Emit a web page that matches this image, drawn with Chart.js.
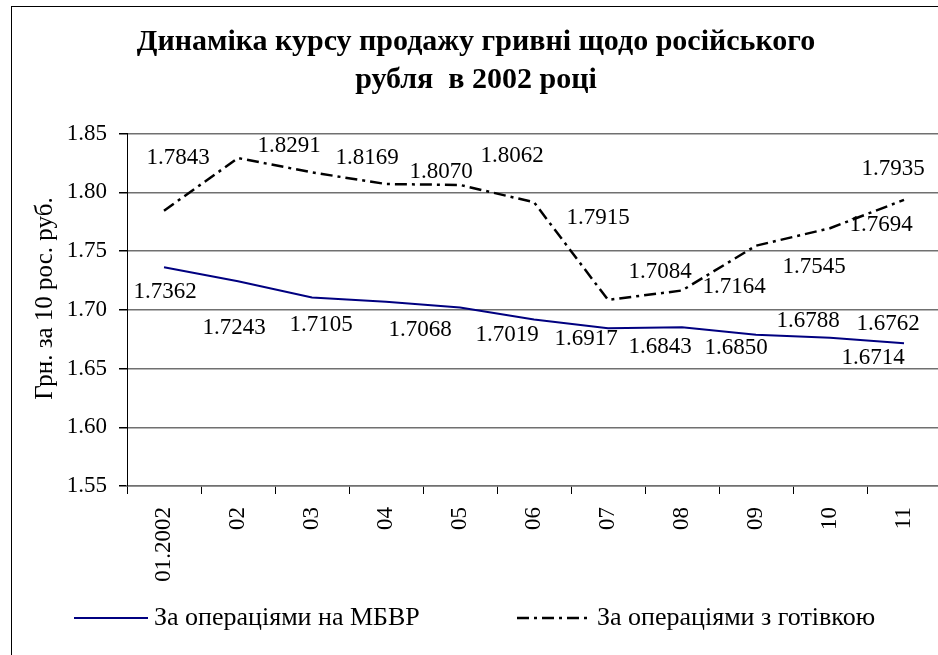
<!DOCTYPE html>
<html><head><meta charset="utf-8">
<script src="https://cdn.jsdelivr.net/npm/chart.js@4"></script>
<style>
html,body{margin:0;padding:0;background:#fff;overflow:hidden;width:938px;height:655px}
#wrap{position:absolute;left:0;top:0;width:960px;height:680px}
#frame{position:absolute;left:11px;top:6px;width:1000px;height:1000px;border:1px solid #000;box-sizing:border-box;pointer-events:none}
</style></head><body>
<div id="wrap"><canvas id="c" width="960" height="680"></canvas></div>
<div id="frame"></div>
<script>
const categories = ['01.2002','02','03','04','05','06','07','08','09','10','11'];
const mbvrValues = [1.7362,1.7243,1.7105,1.7068,1.7019,1.6917,1.6843,1.6850,1.6788,1.6762,1.6714];
const cashValues = [1.7843,1.8291,1.8169,1.8070,1.8062,1.7915,1.7084,1.7164,1.7545,1.7694,1.7935];
const yTicks = [1.55,1.60,1.65,1.70,1.75,1.80,1.85];
const seriesNames = ['За операціями на МБВР','За операціями з готівкою'];
const titleLines = ['Динаміка курсу продажу гривні щодо російського','рубля  в 2002 році'];
const yTitle = 'Грн. за 10 рос. руб.';

// label placement relative to each point (style only)
const mbvrLabelOffsets = [[1,25],[-4,47],[9,28],[34,28],[47,27],[52,19],[52,19],[54,21],[52,-14],[58,-14],[-31,15]];
const cashLabelOffsets = [[14,-53],[51,-12],[55,-14],[55,-12],[52,-29],[64,16],[52,-28],[52,-4],[58,21],[51,-3],[-11,-31]];

const FONT = '"Liberation Serif", "Times New Roman", serif';

const valueLabels = {
  id: 'valueLabels',
  afterDatasetsDraw(chart) {
    const ctx = chart.ctx;
    ctx.save();
    ctx.font = '23px ' + FONT;
    ctx.fillStyle = '#000';
    ctx.textAlign = 'center';
    ctx.textBaseline = 'middle';
    chart.data.datasets.forEach((ds, di) => {
      const meta = chart.getDatasetMeta(di);
      const offs = ds.labelOffsets;
      meta.data.forEach((pt, i) => {
        ctx.fillText(ds.data[i].toFixed(4), pt.x + offs[i][0], pt.y + offs[i][1]);
      });
    });
    ctx.restore();
  }
};

const yAxisTitle = {
  id: 'yAxisTitle',
  afterDraw(chart) {
    const ctx = chart.ctx;
    ctx.save();
    ctx.translate(45, 298.5);
    ctx.rotate(-Math.PI / 2);
    ctx.font = '25px ' + FONT;
    ctx.fillStyle = '#000';
    ctx.textAlign = 'center';
    ctx.textBaseline = 'middle';
    ctx.fillText(yTitle, 0, 0);
    ctx.restore();
  }
};

const customLegend = {
  id: 'customLegend',
  afterDraw(chart) {
    const ctx = chart.ctx;
    const items = [{x: 74, tx: 154}, {x: 517, tx: 597}];
    const y = 618;
    ctx.save();
    chart.data.datasets.forEach((ds, i) => {
      const it = items[i];
      ctx.beginPath();
      ctx.strokeStyle = ds.borderColor;
      ctx.lineWidth = ds.borderWidth;
      ctx.setLineDash(ds.borderDash || []);
      ctx.moveTo(it.x, y);
      ctx.lineTo(it.x + 74, y);
      ctx.stroke();
      ctx.setLineDash([]);
      ctx.font = '26px ' + FONT;
      ctx.fillStyle = '#000';
      ctx.textAlign = 'left';
      ctx.textBaseline = 'middle';
      ctx.fillText(ds.label, it.tx, y);
    });
    ctx.restore();
  }
};

new Chart(document.getElementById('c'), {
  type: 'line',
  data: {
    labels: categories,
    datasets: [
      {label: seriesNames[0], data: mbvrValues, borderColor: '#000080', borderWidth: 2,
       pointRadius: 0, tension: 0, fill: false, labelOffsets: mbvrLabelOffsets},
      {label: seriesNames[1], data: cashValues, borderColor: '#000000', borderWidth: 2.5,
       borderDash: [12, 5, 3, 5], pointRadius: 0, tension: 0, fill: false, labelOffsets: cashLabelOffsets}
    ]
  },
  options: {
    responsive: false, animation: false, devicePixelRatio: 1,
    layout: {padding: {left: 11, right: 19, top: 0, bottom: 94}},
    plugins: {
      legend: {display: false},
      tooltip: {enabled: false},
      title: {display: true, text: titleLines, color: '#000',
        font: {family: FONT, size: 30, weight: 'bold', lineHeight: 38 / 30},
        padding: {top: 23, bottom: 34.5}}
    },
    scales: {
      x: {
        offset: true,
        grid: {offset: true, drawOnChartArea: false, drawTicks: true, tickLength: 8, color: '#000'},
        border: {color: '#707070', width: 1.5},
        ticks: {maxRotation: 90, minRotation: 90, autoSkip: false, padding: 13, color: '#000',
          font: {family: FONT, size: 23}},
        afterFit(s) { s.height = 100; }
      },
      y: {
        min: 1.55, max: 1.85,
        afterBuildTicks(s) { s.ticks = yTicks.map(v => ({value: v})); },
        grid: {color: '#707070', lineWidth: 1.5, tickLength: 8, tickColor: '#000'},
        border: {color: '#000', width: 1},
        ticks: {padding: 12, color: '#000', font: {family: FONT, size: 23},
          callback: v => Number(v).toFixed(2)},
        afterFit(s) { s.width = 116; }
      }
    }
  },
  plugins: [valueLabels, yAxisTitle, customLegend]
});
</script>
</body></html>
